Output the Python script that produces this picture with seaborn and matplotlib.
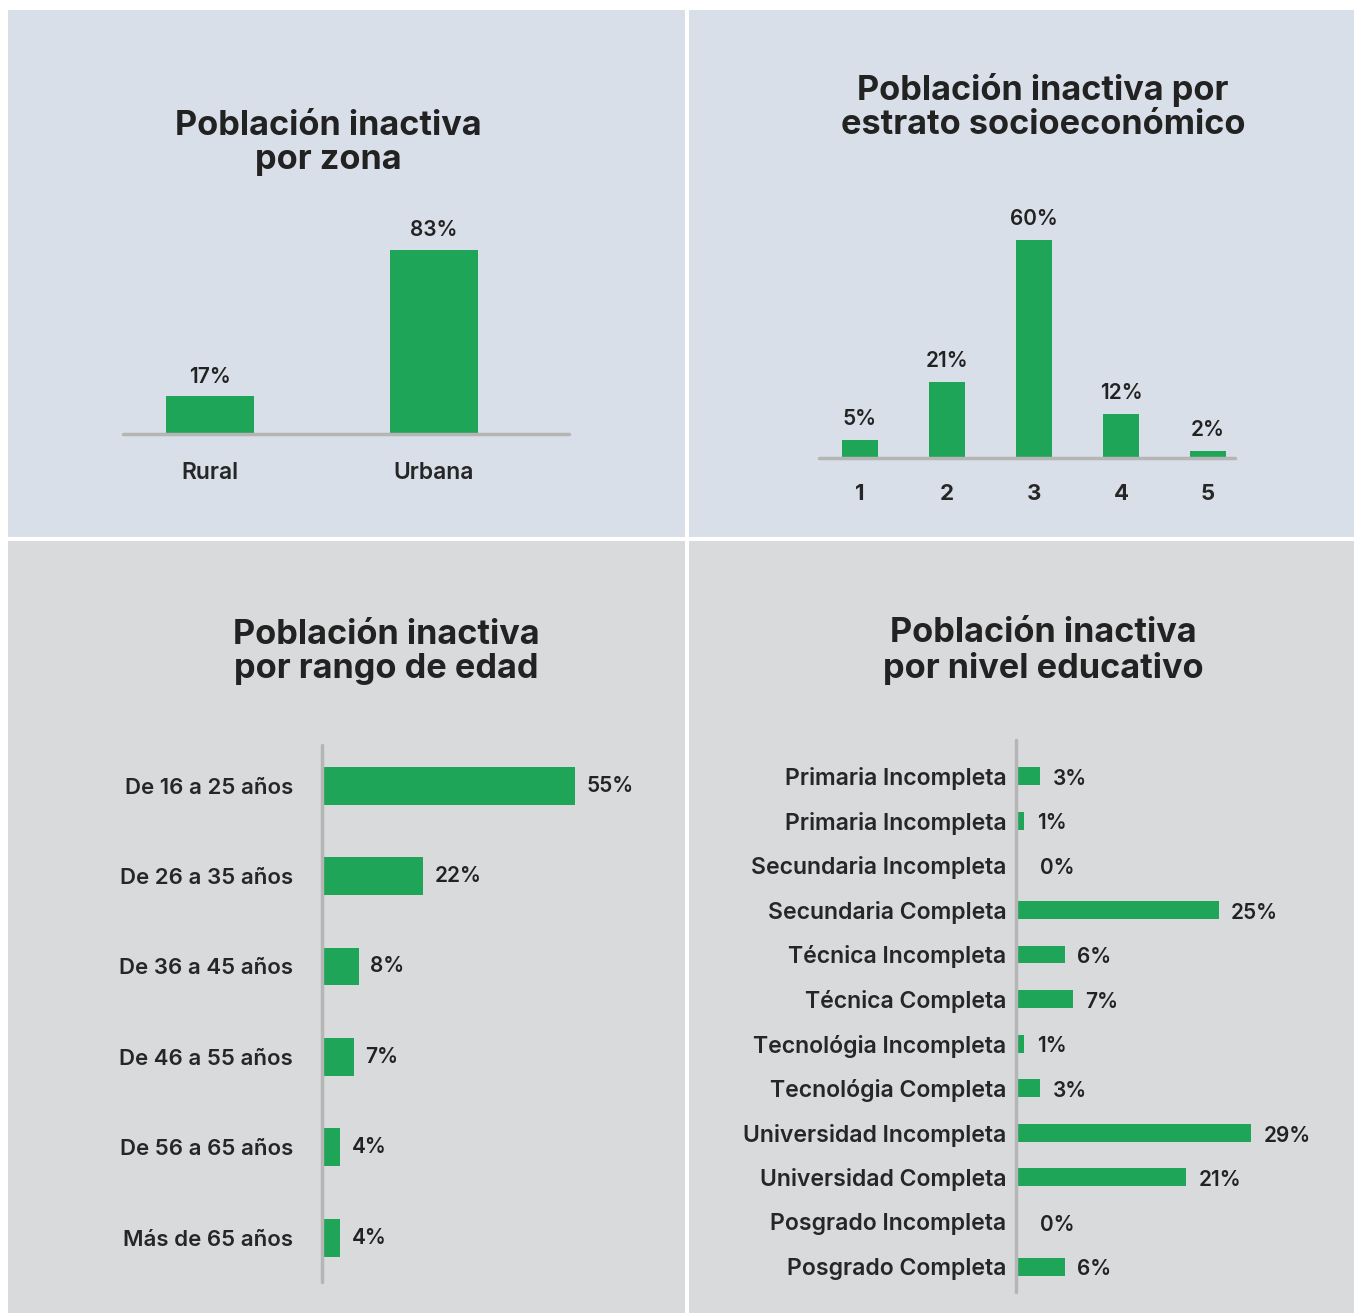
import numpy as np
import pandas as pd
import matplotlib.pyplot as plt
import seaborn as sns
from matplotlib.patches import Rectangle

# data
zona = ["Rural", "Urbana"]
zona_pct = [17, 83]

estrato = ["1", "2", "3", "4", "5"]
estrato_pct = [5, 21, 60, 12, 2]

edad = ["De 16 a 25 años", "De 26 a 35 años", "De 36 a 45 años",
        "De 46 a 55 años", "De 56 a 65 años", "Más de 65 años"]
edad_pct = [55, 22, 8, 7, 4, 4]

nivel = ["Primaria Incompleta", "Primaria Incompleta", "Secundaria Incompleta",
         "Secundaria Completa", "Técnica Incompleta", "Técnica Completa",
         "Tecnológia Incompleta", "Tecnológia Completa", "Universidad Incompleta",
         "Universidad Completa", "Posgrado Incompleta", "Posgrado Completa"]
nivel_pct = [3, 1, 0, 25, 6, 7, 1, 3, 29, 21, 0, 6]

GREEN = "#1ea557"
TOP_BG = "#d9dfe8"
BOT_BG = "#d9dadc"
TXT = "#222222"
AXC = "#b5b5b5"

W, H = 1354, 1313
sns.set_theme(style="white")
plt.rcParams["font.family"] = ["Inter", "DejaVu Sans"]
plt.rcParams["text.color"] = TXT

fig = plt.figure(figsize=(W / 100, H / 100), dpi=100)


def rect(x0, y0, x1, y1):
    # pixel box (top-left origin) -> figure fraction
    return [x0 / W, 1 - y1 / H, (x1 - x0) / W, (y1 - y0) / H]


def panel(x0, y0, x1, y1, col):
    r = rect(x0, y0, x1, y1)
    fig.add_artist(Rectangle((r[0], r[1]), r[2], r[3], transform=fig.transFigure,
                             facecolor=col, edgecolor="none", zorder=0))


def title(x, y, s):
    fig.text(x / W, 1 - y / H, s, ha="center", va="center", fontsize=24.7,
             fontweight="bold", linespacing=1.1, color=TXT)


def clean(ax):
    ax.patch.set_alpha(0)
    for sp in ax.spines.values():
        sp.set_visible(False)
    ax.set_xlabel("")
    ax.set_ylabel("")
    ax.tick_params(length=0)


bar_kw = dict(color=GREEN, saturation=1, linewidth=0, edgecolor="none")

panel(8, 10, 685, 537, TOP_BG)
panel(689, 10, 1354, 537, TOP_BG)
panel(8, 541, 685, 1313, BOT_BG)
panel(689, 541, 1354, 1313, BOT_BG)

title(328, 143, "Población inactiva\npor zona")
title(1043, 107, "Población inactiva por\nestrato socioeconómico")
title(386, 652, "Población inactiva\npor rango de edad")
title(1043, 651, "Población inactiva\npor nivel educativo")

# --- por zona
ax1 = fig.add_axes(rect(123, 200, 569, 434))
sns.barplot(x=zona, y=zona_pct, width=0.39, ax=ax1, **bar_kw)
ax1.set_xlim(-0.388, 1.603)
ax1.set_ylim(0, 105.4)
ax1.axhline(0, color=AXC, lw=2.5, clip_on=False)
clean(ax1)
ax1.set_yticks([])
ax1.tick_params(axis="x", pad=20, labelsize=16.5)
for t in ax1.get_xticklabels():
    t.set_fontweight("semibold")
ax1.bar_label(ax1.containers[0], labels=[f"{v}%" for v in zona_pct],
              padding=7, fontsize=15, fontweight="semibold", color=TXT)

# --- por estrato
ax2 = fig.add_axes(rect(819, 200, 1235, 458))
sns.barplot(x=estrato, y=estrato_pct, width=0.41, ax=ax2, **bar_kw)
ax2.set_xlim(-0.47, 4.31)
ax2.set_ylim(0, 71.1)
ax2.axhline(0, color=AXC, lw=2.5, clip_on=False)
clean(ax2)
ax2.set_yticks([])
ax2.tick_params(axis="x", pad=19, labelsize=16)
for t in ax2.get_xticklabels():
    t.set_fontweight("bold")
ax2.bar_label(ax2.containers[0], labels=[f"{v}%" for v in estrato_pct],
              padding=8, fontsize=15, fontweight="semibold", color=TXT)

# --- por edad
ax3 = fig.add_axes(rect(322, 745, 660, 1282))
sns.barplot(x=edad_pct, y=edad, width=0.42, orient="h", ax=ax3, **bar_kw)
ax3.set_xlim(0, 338 / 4.6)
ax3.set_ylim(5.49, -0.45)
ax3.axvline(0, color=AXC, lw=2.5, clip_on=False)
clean(ax3)
ax3.set_xticks([])
ax3.tick_params(axis="y", pad=21, labelsize=16)
for t in ax3.get_yticklabels():
    t.set_fontweight("semibold")
ax3.bar_label(ax3.containers[0], labels=[f"{v}%" for v in edad_pct],
              padding=8, fontsize=15, fontweight="semibold", color=TXT)

# --- por nivel educativo (labels repeat, so plot by position)
pos = list(range(len(nivel)))
ax4 = fig.add_axes(rect(1016, 740, 1345, 1292))
sns.barplot(x=nivel_pct, y=pos, width=0.40, orient="h", ax=ax4, **bar_kw)
ax4.set_xlim(0, 329 / 8.1)
ax4.set_ylim(11.57, -0.81)
ax4.axvline(0, color=AXC, lw=2.5, clip_on=False)
clean(ax4)
ax4.set_xticks([])
ax4.set_yticks(pos)
ax4.set_yticklabels(nivel, fontsize=16.6, fontweight="semibold")
ax4.tick_params(axis="y", pad=7)
for p, v in zip(pos, nivel_pct):
    ax4.annotate(f"{v}%", (v, p), xytext=(9 if v else 17, -2),
                 textcoords="offset points", ha="left", va="center",
                 fontsize=15, fontweight="semibold", color=TXT)

fig.savefig("out.png", dpi=100)
